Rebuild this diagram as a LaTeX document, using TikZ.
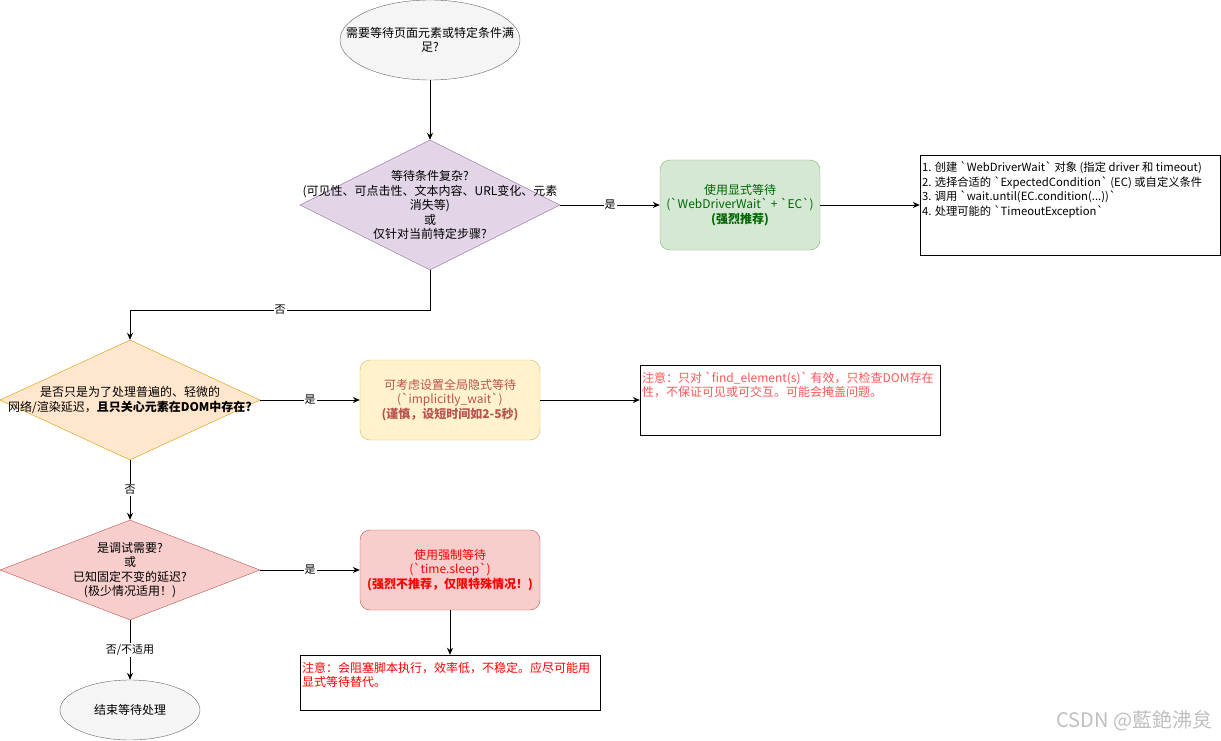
\documentclass[tikz,border=0pt]{standalone}
\usepackage{fontspec}
\setmainfont{Noto Sans CJK SC}
\usepackage{tikz}
\usetikzlibrary{shapes.geometric,arrows.meta}

\definecolor{grayfill}{HTML}{F5F5F5}
\definecolor{grayline}{HTML}{666666}
\definecolor{purplefill}{HTML}{E1D5E7}
\definecolor{purpleline}{HTML}{9673A6}
\definecolor{greenfill}{HTML}{D5E8D4}
\definecolor{greenline}{HTML}{82B366}
\definecolor{greentext}{HTML}{006600}
\definecolor{orangefill}{HTML}{FFE6CC}
\definecolor{orangeline}{HTML}{D79B00}
\definecolor{yellowfill}{HTML}{FFF2CC}
\definecolor{yellowline}{HTML}{D6B656}
\definecolor{redfill}{HTML}{F8CECC}
\definecolor{redline}{HTML}{B85450}
\definecolor{notered}{HTML}{FF5555}

\newcommand{\bq}{\textasciigrave}

\begin{document}
\begin{tikzpicture}[
        x=1pt, y=-1pt,
        >={Stealth[length=7pt,width=6pt]},
        every node/.style={font=\fontsize{12}{14.5}\selectfont},
        terminal/.style={draw=grayline, fill=grayfill, ellipse, inner sep=0pt, align=center},
        decision/.style={draw, diamond, inner sep=0pt, align=center},
        action/.style={draw, rounded corners=10pt, align=center},
        notebox/.style={draw, rectangle, inner sep=0pt},
        notetext/.style={anchor=north west, inner sep=2pt, yshift=-5pt, align=left},
        flow/.style={->, thick, line width=0.9pt},
        yesno/.style={fill=white, inner sep=1pt, font=\fontsize{11}{13}\selectfont}
    ]
        \useasboundingbox (0,0) rectangle (1221,741);

        % Start
        \node[terminal, minimum width=180, minimum height=80,
            label={[align=center]center:需要等待页面元素或特定条件满\\足?}]
            (start) at (430,40) {};

        % Erste Entscheidung: komplexe Bedingung?
        \node[decision, draw=purpleline, fill=purplefill, minimum width=260, minimum height=130,
            label={[align=center]center:等待条件复杂?\\(可见性、可点击性、文本内容、URL变化、元素\\消失等)\\或\\仅针对当前特定步骤?}]
            (d1) at (430,205) {};

        % Explizites Warten
        \node[action, draw=greenline, fill=greenfill, text=greentext, minimum width=160, minimum height=90]
            (explicit) at (740,205)
            {使用显式等待\\(\bq WebDriverWait\bq{} + \bq EC\bq)\\\textbf{(强烈推荐)}};
        \node[notebox, minimum width=300, minimum height=100,
            label={[notetext, font=\fontsize{11.3}{14.5}\selectfont]north west:1. 创建 \bq WebDriverWait\bq{} 对象 (指定 driver 和 timeout)\\2. 选择合适的 \bq ExpectedCondition\bq{} (EC) 或自定义条件\\3. 调用 \bq wait.until(EC.condition(...))\bq\\4. 处理可能的 \bq TimeoutException\bq}]
            (note1) at (1070,205) {};

        % Zweite Entscheidung: nur DOM-Existenz?
        \node[decision, draw=orangeline, fill=orangefill, minimum width=260, minimum height=120,
            label={[align=center]center:是否只是为了处理普遍的、轻微的\\网络/渲染延迟，\textbf{且只关心元素在DOM中存在?}}]
            (d2) at (130,400) {};

        % Implizites Warten
        \node[action, draw=yellowline, fill=yellowfill, text=redline, minimum width=180, minimum height=80]
            (implicit) at (450,400)
            {可考虑设置全局隐式等待\\(\bq implicitly\_wait\bq)\\\textbf{(谨慎，设短时间如2-5秒)}};
        \node[notebox, minimum width=300, minimum height=70,
            label={[notetext, text=notered]north west:注意：只对 \bq find\_element(s)\bq{} 有效，只检查DOM存在\\性，不保证可见或可交互。可能会掩盖问题。}]
            (note2) at (790,400) {};

        % Dritte Entscheidung: Debugging?
        \node[decision, draw=redline, fill=redfill, minimum width=260, minimum height=100,
            label={[align=center]center:是调试需要?\\或\\已知固定不变的延迟?\\(极少情况适用！)}]
            (d3) at (130,570) {};

        % Erzwungenes Warten
        \node[action, draw=redline, fill=redfill, text=red, minimum width=180, minimum height=80]
            (sleep) at (450,570)
            {使用强制等待\\(\bq time.sleep\bq)\\\textbf{(强烈不推荐，仅限特殊情况！)}};
        \node[notebox, minimum width=300, minimum height=55,
            label={[notetext, text=red]north west:注意：会阻塞脚本执行，效率低，不稳定。应尽可能用\\显式等待替代。}]
            (note3) at (450,682.5) {};

        % Ende
        \node[terminal, minimum width=140, minimum height=60,
            label={center:结束等待处理}] (end) at (130,710) {};

        % Verbindungen
        \coordinate (k1) at (430,310);
        \draw[flow] (start.south) -- (d1.north);
        \draw[flow] (d1.east) -- node[yesno] {是} (explicit.west);
        \draw[flow] (explicit.east) -- (note1.west);
        \draw[flow] (d1.south) -- (k1) -| node[yesno, pos=0.25] {否} (d2.north);
        \draw[flow] (d2.east) -- node[yesno] {是} (implicit.west);
        \draw[flow] (implicit.east) -- (note2.west);
        \draw[flow] (d2.south) -- node[yesno] {否} (d3.north);
        \draw[flow] (d3.east) -- node[yesno] {是} (sleep.west);
        \draw[flow] (sleep.south) -- (note3.north);
        \draw[flow] (d3.south) -- node[yesno] {否/不适用} (end.north);

        % Wasserzeichen
        \node[text=black!25, font=\fontsize{20}{22}\selectfont, anchor=east] (mark) at (1216,721) {CSDN @藍銫沸炱};

    \end{tikzpicture}
\end{document}
